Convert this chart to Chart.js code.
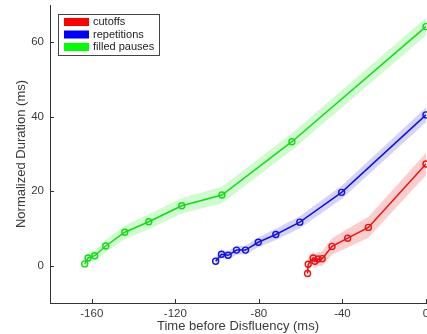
<!DOCTYPE html>
<html>
<head>
<meta charset="utf-8">
<script src="https://cdn.jsdelivr.net/npm/chart.js@4.4.1/dist/chart.umd.min.js"></script>
<style>
    html, body { margin: 0; padding: 0; background: #fff; }
    #wrap { width: 427px; height: 334px; }
</style>
</head>
<body>
<div id="wrap"><canvas id="chart" width="427" height="334"></canvas></div>
<script>
// values
const seriesNames = ['cutoffs', 'repetitions', 'filled pauses'];

const cutoffTime = [-56.7, -56.4, -54.0, -53.2, -51.6, -49.7, -45.0, -37.5, -27.6, 0];
const cutoffDur = [-2.1, 0.4, 2.1, 1.2, 1.8, 1.9, 5.2, 7.4, 10.3, 27.3];
const cutoffErr = [1.5, 1.6, 1.7, 1.8, 1.9, 2.0, 2.2, 2.5, 2.8, 3.0];

const repTime = [-100.7, -97.9, -94.7, -90.7, -86.4, -80.3, -71.9, -60.4, -40.4, 0];
const repDur = [1.2, 3.1, 2.8, 4.2, 4.2, 6.3, 8.4, 11.7, 19.7, 40.5];
const repErr = [1.0, 1.1, 1.1, 1.2, 1.2, 1.3, 1.5, 1.6, 1.8, 2.0];

const pauseTime = [-163.4, -161.8, -158.6, -153.3, -144.2, -132.7, -116.9, -97.7, -64.2, 0];
const pauseDur = [0.5, 2.1, 2.7, 5.3, 9.0, 11.8, 16.1, 19.0, 33.3, 64.2];
const pauseErr = [1.2, 1.3, 1.4, 1.6, 1.8, 2.0, 2.1, 2.2, 2.3, 2.4];

const xTicks = [-160, -120, -80, -40, 0];
const yTicks = [0, 20, 40, 60];

const lineColors = ['#ee1010', '#1010e6', '#12dc12'];
const bandColors = ['rgba(240,60,60,0.25)', 'rgba(70,70,240,0.24)', 'rgba(40,230,40,0.22)'];
const swatchColors = ['#ff0000', '#0000ff', '#00ff00'];

const axisColor = '#333333';
const textColor = '#3a3a3a';
const fontFamily = '"Liberation Sans", Arial, sans-serif';

function points(xs, ys) {
    return xs.map((x, i) => ({ x: x, y: ys[i] }));
}

function bandDatasets(xs, ys, errs, color) {
    const lower = ys.map((y, i) => y - errs[i]);
    const upper = ys.map((y, i) => y + errs[i]);
    return [{
        data: points(xs, lower),
        borderWidth: 0,
        pointRadius: 0,
        fill: false,
        order: 2
    }, {
        data: points(xs, upper),
        borderWidth: 0,
        pointRadius: 0,
        backgroundColor: color,
        fill: '-1',
        order: 2
    }];
}

function lineDataset(xs, ys, color) {
    return {
        data: points(xs, ys),
        borderColor: color,
        borderWidth: 1.5,
        pointRadius: 3,
        pointBorderWidth: 1.4,
        pointBorderColor: color,
        pointBackgroundColor: 'rgba(0,0,0,0)',
        fill: false,
        clip: false,
        order: 1
    };
}

const datasets = [
    ...bandDatasets(cutoffTime, cutoffDur, cutoffErr, bandColors[0]),
    ...bandDatasets(repTime, repDur, repErr, bandColors[1]),
    ...bandDatasets(pauseTime, pauseDur, pauseErr, bandColors[2]),
    lineDataset(pauseTime, pauseDur, lineColors[2]),
    lineDataset(repTime, repDur, lineColors[1]),
    lineDataset(cutoffTime, cutoffDur, lineColors[0])
];

// matlab style ticks pointing into the axes
const innerTicks = {
    id: 'innerTicks',
    afterDraw(chart) {
        const { ctx, chartArea, scales } = chart;
        ctx.save();
        ctx.strokeStyle = axisColor;
        ctx.lineWidth = 1;
        ctx.beginPath();
        xTicks.forEach(v => {
            const px = Math.round(scales.x.getPixelForValue(v)) + 0.5;
            ctx.moveTo(px, chartArea.bottom);
            ctx.lineTo(px, chartArea.bottom - 4);
        });
        yTicks.forEach(v => {
            const py = Math.round(scales.y.getPixelForValue(v)) + 0.5;
            ctx.moveTo(chartArea.left, py);
            ctx.lineTo(chartArea.left + 4, py);
        });
        ctx.stroke();
        ctx.restore();
    }
};

const boxLegend = {
    id: 'boxLegend',
    afterDraw(chart) {
        const ctx = chart.ctx;
        const left = 58, top = 14, w = 101, h = 41;
        ctx.save();
        ctx.fillStyle = '#ffffff';
        ctx.fillRect(left, top, w, h);
        ctx.strokeStyle = '#444444';
        ctx.lineWidth = 1;
        ctx.strokeRect(left + 0.5, top + 0.5, w, h);
        ctx.font = '11px ' + fontFamily;
        ctx.textBaseline = 'middle';
        seriesNames.forEach((name, i) => {
            const cy = 22 + i * 12.5;
            ctx.fillStyle = swatchColors[i];
            ctx.fillRect(64, cy - 4, 25, 8);
            ctx.fillStyle = '#222222';
            ctx.fillText(name, 93, cy);
        });
        ctx.restore();
    }
};

new Chart(document.getElementById('chart').getContext('2d'), {
    type: 'line',
    data: { datasets: datasets },
    plugins: [innerTicks, boxLegend],
    options: {
        responsive: false,
        animation: false,
        layout: { autoPadding: false, padding: { top: 5, right: 1, left: 0, bottom: 0 } },
        plugins: {
            legend: { display: false },
            tooltip: { enabled: false }
        },
        scales: {
            x: {
                type: 'linear',
                min: -180,
                max: 0,
                afterBuildTicks: scale => { scale.ticks = xTicks.map(v => ({ value: v })); },
                afterFit: scale => {
                    scale.height = 31;
                    scale.paddingLeft = 0;
                    scale.paddingRight = 0;
                },
                grid: { display: false, drawTicks: false },
                border: { display: true, color: axisColor, width: 1 },
                ticks: {
                    color: textColor,
                    padding: 4,
                    maxRotation: 0,
                    font: { family: fontFamily, size: 11.5 }
                },
                title: {
                    display: true,
                    text: 'Time before Disfluency (ms)',
                    color: textColor,
                    padding: { top: 0, bottom: 0 },
                    font: { family: fontFamily, size: 13 }
                }
            },
            y: {
                type: 'linear',
                min: -10,
                max: 70,
                afterBuildTicks: scale => { scale.ticks = yTicks.map(v => ({ value: v })); },
                afterFit: scale => {
                    scale.width = 50;
                    scale.paddingTop = 0;
                    scale.paddingBottom = 0;
                },
                grid: { display: false, drawTicks: false },
                border: { display: true, color: axisColor, width: 1 },
                ticks: {
                    color: textColor,
                    padding: 6,
                    font: { family: fontFamily, size: 11.5 }
                },
                title: {
                    display: true,
                    text: 'Normalized Duration (ms)',
                    color: textColor,
                    padding: { top: 14, bottom: 0 },
                    font: { family: fontFamily, size: 13 }
                }
            }
        }
    }
});
</script>
</body>
</html>
